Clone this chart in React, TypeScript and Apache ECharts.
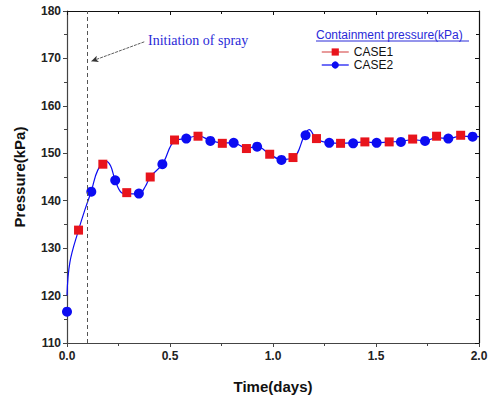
import React, { useEffect, useRef } from "react";
import * as echarts from "echarts";

const case1: [number, number][] = [
  [0.056, 133.8], [0.174, 147.7], [0.29, 141.7], [0.404, 145.0], [0.522, 152.8],
  [0.636, 153.6], [0.754, 152.1], [0.871, 151.0], [0.984, 149.8], [1.097, 149.1],
  [1.211, 153.1], [1.328, 152.1], [1.446, 152.4], [1.564, 152.4], [1.678, 153.0],
  [1.794, 153.6], [1.911, 153.8],
];

const case2: [number, number][] = [
  [0.0, 116.6], [0.118, 141.9], [0.234, 144.3], [0.349, 141.5], [0.463, 147.7],
  [0.579, 153.1], [0.696, 152.6], [0.809, 152.2], [0.923, 151.4], [1.041, 148.6],
  [1.158, 153.8], [1.273, 152.2], [1.389, 152.1], [1.503, 152.2], [1.621, 152.4],
  [1.738, 152.6], [1.851, 153.1], [1.969, 153.5],
];

const curve: [number, number][] = [
  [0.0, 120.0], [0.014, 127.0], [0.056, 133.8], [0.09, 138.5], [0.118, 142.0],
  [0.15, 146.5], [0.19, 148.3], [0.212, 147.3], [0.234, 144.3], [0.265, 141.7],
  [0.29, 141.5], [0.349, 141.4], [0.38, 143.0], [0.404, 145.0], [0.463, 147.7],
  [0.522, 152.6], [0.579, 153.1], [0.636, 153.7], [0.696, 152.7], [0.754, 152.2],
  [0.809, 152.2], [0.871, 151.1], [0.923, 151.4], [0.984, 149.8], [1.041, 148.7],
  [1.097, 149.0], [1.158, 154.3], [1.175, 155.0], [1.211, 153.0], [1.273, 152.2],
  [1.328, 152.1], [1.389, 152.2], [1.446, 152.4], [1.503, 152.2], [1.564, 152.4],
  [1.621, 152.5], [1.678, 152.9], [1.738, 152.6], [1.794, 153.3], [1.851, 153.1],
  [1.911, 153.6], [1.969, 153.5], [2.0, 153.5],
];

const sprayStart = 0.1;
const legendTitle = "Containment pressure(kPa)";
const annotation = "Initiation of spray";

const RED = "#e8141c";
const BLUE = "#0c0cf2";
const FONT = "Liberation Sans, Arial, sans-serif";

export default function App() {
  const ref = useRef<HTMLDivElement>(null);
  useEffect(() => {
    if (!ref.current) return;
    const chart = echarts.init(ref.current, undefined, { renderer: "svg" });
    const axisLabel = { fontFamily: FONT, fontWeight: "bold", fontSize: 12, color: "#222" };
    chart.setOption({
      animation: false,
      backgroundColor: "#fff",
      grid: { left: 67, right: 12, top: 11, bottom: 57 },
      legend: {
        orient: "vertical",
        left: 316,
        top: 41,
        itemWidth: 27,
        itemHeight: 9,
        itemGap: 1,
        textStyle: { fontFamily: FONT, fontSize: 12, color: "#111" },
        data: [
          { name: "CASE1", lineStyle: { color: "#e07a7a", width: 1.5, opacity: 1 } },
          { name: "CASE2", lineStyle: { color: BLUE, width: 1.2, opacity: 1 } },
        ],
      },
      xAxis: [
        {
          type: "value", min: 0, max: 2, interval: 0.5,
          name: "Time(days)", nameLocation: "middle", nameGap: 36,
          nameTextStyle: { fontFamily: FONT, fontWeight: "bold", fontSize: 15, color: "#111" },
          axisLine: { lineStyle: { color: "#444", width: 1.2 } },
          axisTick: { inside: false, length: 4, lineStyle: { color: "#444" } },
          minorTick: { show: true, splitNumber: 2, length: 3, lineStyle: { color: "#444" } },
          splitLine: { show: false },
          axisLabel: { ...axisLabel, margin: 7, formatter: (v: number) => v.toFixed(1) },
        },
        {
          type: "value", min: 0, max: 2, interval: 0.5, position: "top",
          axisLine: { onZero: false, lineStyle: { color: "#111", width: 1.2 } },
          axisTick: { inside: true, length: 4, lineStyle: { color: "#111" } },
          minorTick: { show: true, splitNumber: 2, length: 3, lineStyle: { color: "#111" } },
          splitLine: { show: false },
          axisLabel: { show: false },
        },
      ],
      yAxis: [
        {
          type: "value", min: 110, max: 180, interval: 10,
          name: "Pressure(kPa)", nameLocation: "middle", nameGap: 40,
          nameTextStyle: { fontFamily: FONT, fontWeight: "bold", fontSize: 15, color: "#111" },
          axisLine: { show: true, lineStyle: { color: "#444", width: 1.2 } },
          axisTick: { show: true, inside: false, length: 4, lineStyle: { color: "#444" } },
          minorTick: { show: true, splitNumber: 2, length: 3, lineStyle: { color: "#444" } },
          splitLine: { show: false },
          axisLabel: { ...axisLabel, margin: 6 },
        },
        {
          type: "value", min: 110, max: 180, interval: 10, position: "right",
          axisLine: { show: true, onZero: false, lineStyle: { color: "#111", width: 1.2 } },
          axisTick: { show: true, inside: true, length: 4, lineStyle: { color: "#111" } },
          minorTick: { show: true, splitNumber: 2, length: 3, lineStyle: { color: "#111" } },
          splitLine: { show: false },
          axisLabel: { show: false },
        },
      ],
      series: [
        {
          name: "curve",
          type: "line",
          data: curve,
          smooth: 0.4,
          showSymbol: false,
          symbol: "none",
          lineStyle: { color: BLUE, width: 1.2 },
          itemStyle: { color: BLUE },
          z: 2,
          silent: true,
          markLine: {
            silent: true,
            symbol: ["none", "none"],
            label: { show: false },
            lineStyle: { color: "#555", type: [4, 3], width: 1 },
            data: [{ xAxis: sprayStart }],
          },
        },
        {
          name: "arrow",
          type: "line",
          data: [],
          markLine: {
            silent: true,
            symbol: ["none", "arrow"],
            symbolSize: [5, 7],
            label: { show: false },
            lineStyle: { color: "#333", type: [3, 1], width: 0.8 },
            data: [[{ coord: [0.375, 173.5] }, { coord: [0.118, 169.4] }]],
          },
        },
        {
          name: "CASE1",
          type: "line",
          data: case1,
          symbol: "rect",
          symbolSize: 9,
          showAllSymbol: true,
          clip: false,
          lineStyle: { opacity: 0, color: RED },
          itemStyle: { color: RED },
          z: 4,
        },
        {
          name: "CASE2",
          type: "line",
          data: case2,
          symbol: "circle",
          symbolSize: 10,
          showAllSymbol: true,
          clip: false,
          lineStyle: { opacity: 0, color: BLUE },
          itemStyle: { color: BLUE },
          z: 4,
        },
      ],
      graphic: [
        {
          type: "text",
          left: 148,
          top: 33,
          style: { text: annotation, fontFamily: "Liberation Serif, Times New Roman, serif", fontSize: 14, fill: "#2a2ad8" },
        },
        {
          type: "text",
          left: 316,
          top: 29,
          style: { text: legendTitle, fontFamily: FONT, fontSize: 12, fill: "#2a2ad8" },
        },
        {
          type: "line",
          shape: { x1: 316, y1: 41, x2: 469, y2: 41 },
          style: { stroke: "#2a2ad8", lineWidth: 1 },
        },
      ],
    });
    return () => chart.dispose();
  }, []);
  return (
    <div
      ref={ref}
      style={{ position: "fixed", left: 0, top: 0, width: 491, height: 400 }}
    />
  );
}
